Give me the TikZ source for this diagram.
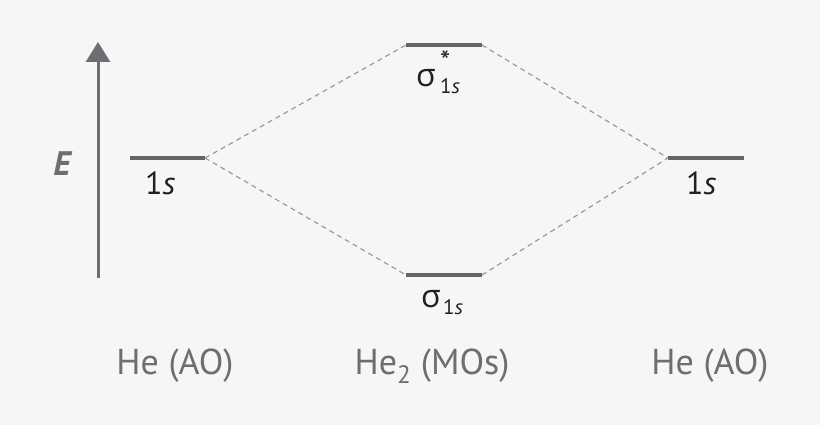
\documentclass[tikz,border=0pt]{standalone}
\usepackage{fontspec}
\setmainfont{PT Sans}
\newfontfamily\greekfont{Open Sans}
\usetikzlibrary{arrows.meta}
\definecolor{bg}{HTML}{F6F6F6}
\definecolor{axiscol}{HTML}{6D6E71}
\definecolor{levcol}{HTML}{636466}
\definecolor{dashcol}{HTML}{999B9E}
\definecolor{txtcol}{HTML}{231F20}
\begin{document}
\begin{tikzpicture}[x=1pt,y=-1pt,
  levelline/.style={levcol,line width=3.2pt},
  dashline/.style={dashcol,line width=1.2pt,dash pattern=on 5pt off 4pt},
  orblabel/.style={txtcol,inner sep=0pt,font=\fontsize{32}{32}\selectfont},
  sigmalabel/.style={txtcol,inner sep=0pt,font=\greekfont\fontsize{32}{32}\selectfont},
  sublabel/.style={txtcol,inner sep=0pt,font=\fontsize{21}{21}\selectfont},
  atomlabel/.style={axiscol,inner sep=0pt,font=\fontsize{36}{36}\selectfont}]
\fill[bg] (0,0) rectangle (820,425);
\useasboundingbox (0,0) rectangle (820,425);

% energy axis
\coordinate (axb) at (98,278);
\coordinate (axt) at (98,42);
\draw[axiscol,line width=3pt,-{Triangle[width=24pt,length=20pt]}] (axb) -- (axt);
\node[axiscol,inner sep=0pt,anchor=base,font=\fontsize{34}{34}\selectfont\bfseries\itshape] (E) at (62,176) {E};

% levels
\coordinate (La) at (130,158); \coordinate (Lb) at (205,158);
\coordinate (Ra) at (668,158); \coordinate (Rb) at (744,158);
\coordinate (Ta) at (406,45);  \coordinate (Tb) at (482,45);
\coordinate (Ba) at (406,275); \coordinate (Bb) at (482,275);
\draw[levelline] (La) -- (Lb);
\draw[levelline] (Ra) -- (Rb);
\draw[levelline] (Ta) -- (Tb);
\draw[levelline] (Ba) -- (Bb);

% correlation lines
\draw[dashline] (Lb) -- (Ta);
\draw[dashline] (Lb) -- (Ba);
\draw[dashline] (Tb) -- (Ra);
\draw[dashline] (Bb) -- (Ra);

% orbital labels
\node[orblabel,anchor=base west] (l1s) at (145,195) {1\textit{s}};
\node[orblabel,anchor=base west] (r1s) at (686,195) {1\textit{s}};

\node[sigmalabel,anchor=base west] (sigs) at (416,87) {σ};
\node[sublabel,anchor=base west] (sigssub) at (440,94) {1\textit{s}};
\node[txtcol,inner sep=0pt,anchor=base west,font=\fontsize{29}{29}\selectfont] (star) at (440,72) {*};

\node[sigmalabel,anchor=base west] (sig) at (421,307) {σ};
\node[sublabel,anchor=base west] (sigsub) at (443,314) {1\textit{s}};

% atom labels
\node[atomlabel,anchor=base] (heL) at (175,374) {He (AO)};
\node[atomlabel,anchor=base] (he2) at (432,374) {He\textsubscript{2} (MOs)};
\node[atomlabel,anchor=base] (heR) at (710,374) {He (AO)};
\end{tikzpicture}
\end{document}
